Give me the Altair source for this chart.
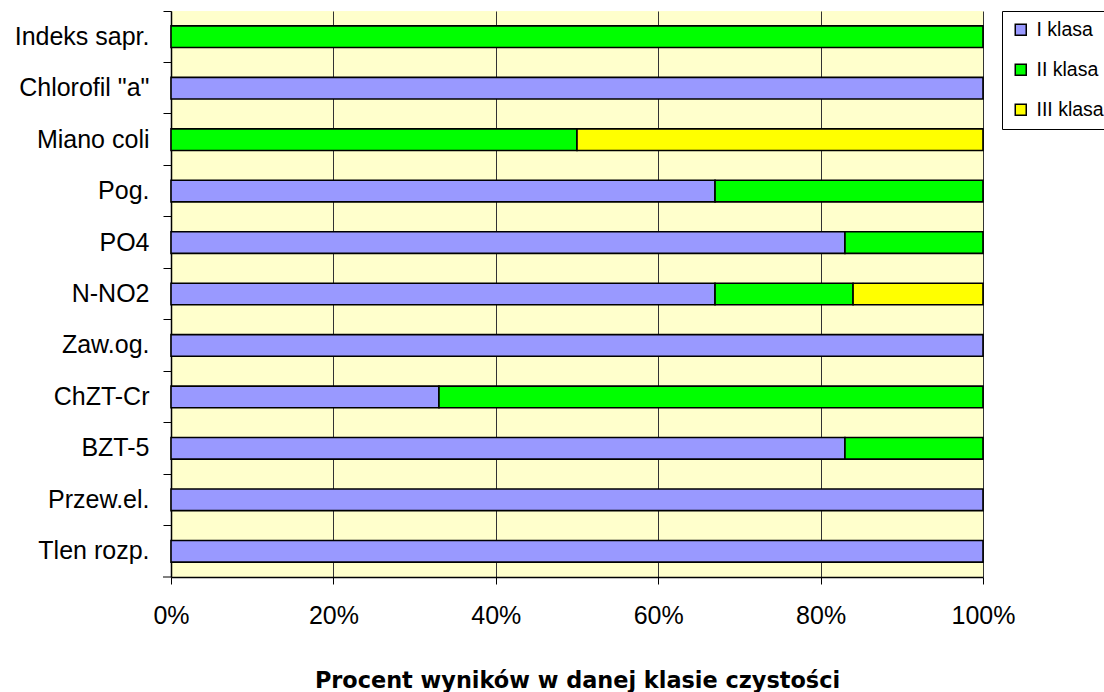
import altair as alt
import pandas as pd

# Water-quality indicators, top to bottom
categories = ["Indeks sapr.", "Chlorofil \"a\"", "Miano coli", "Pog.", "PO4", "N-NO2",
              "Zaw.og.", "ChZT-Cr", "BZT-5", "Przew.el.", "Tlen rozp."]
# Share of results (%) in each purity class
klasa_1 = [0, 100, 0, 67, 83, 67, 100, 33, 83, 100, 100]
klasa_2 = [100, 0, 50, 33, 17, 17, 0, 67, 17, 0, 0]
klasa_3 = [0, 0, 50, 0, 0, 16, 0, 0, 0, 0, 0]

classes = ["I klasa", "II klasa", "III klasa"]
colors = ["#9999FF", "#00FF00", "#FFFF00"]
x_ticks = [0, 20, 40, 60, 80, 100]

rows = []
for i, cat in enumerate(categories):
    for k, vals in enumerate([klasa_1, klasa_2, klasa_3]):
        if vals[i] > 0:
            rows.append({"wskaznik": cat, "klasa": classes[k], "rank": k, "procent": vals[i]})
df = pd.DataFrame(rows)

W, H = 812, 566

bars = alt.Chart(df).mark_bar(
    height={"band": 0.42}, stroke="black", strokeWidth=1.6
).encode(
    x=alt.X(
        "procent:Q", stack="zero",
        scale=alt.Scale(domain=[0, 100], nice=False),
        axis=alt.Axis(
            values=x_ticks, labelExpr="datum.value + '%'", labelFlush=False,
            grid=True, gridColor="#333333", gridWidth=1,
            domainColor="black", domainWidth=1.5,
            tickColor="black", tickSize=7, tickWidth=1,
            labelFont="Liberation Sans", labelFontSize=25, labelColor="black",
            labelBaseline="alphabetic", labelPadding=39,
            title="Procent wyników  w danej klasie czystości",
            titleFont="DejaVu Sans", titleFontSize=22.4, titleFontWeight="bold",
            titleColor="black", titleBaseline="alphabetic", titleY=110,
        ),
    ),
    y=alt.Y(
        "wskaznik:N", sort=categories,
        scale=alt.Scale(paddingInner=0, paddingOuter=0),
        axis=alt.Axis(
            title=None, bandPosition=0, grid=False,
            domainColor="black", domainWidth=1.5,
            tickColor="black", tickSize=8, tickWidth=1,
            labelFont="Liberation Sans", labelFontSize=25, labelColor="black",
            labelPadding=14,
        ),
    ),
    color=alt.Color(
        "klasa:N",
        scale=alt.Scale(domain=classes, range=colors),
        legend=alt.Legend(
            title=None, orient="none", legendX=831, legendY=0,
            strokeColor="black", fillColor="white", padding=9,
            symbolType="square", symbolSize=121,
            symbolStrokeColor="black", symbolStrokeWidth=1.5,
            labelFont="Liberation Sans", labelFontSize=19.5, labelColor="black",
            labelOffset=6, rowPadding=19,
        ),
    ),
    order=alt.Order("rank:Q"),
)

# short tick to the left of the bottom category boundary
edge = alt.Chart(pd.DataFrame({"v": [0]})).mark_rule(color="black", strokeWidth=1).encode(
    x=alt.value(-8), x2=alt.value(0), y=alt.value(H)
)

chart = alt.layer(bars, edge).properties(
    width=W, height=H,
    autosize=alt.AutoSizeParams(type="none"),
    padding={"left": 171, "top": 11, "right": 121, "bottom": 115},
    background="white",
).configure_view(fill="#FFFFCC", strokeWidth=0)

chart.save("out.html", embed_options={"renderer": "svg", "actions": False})
